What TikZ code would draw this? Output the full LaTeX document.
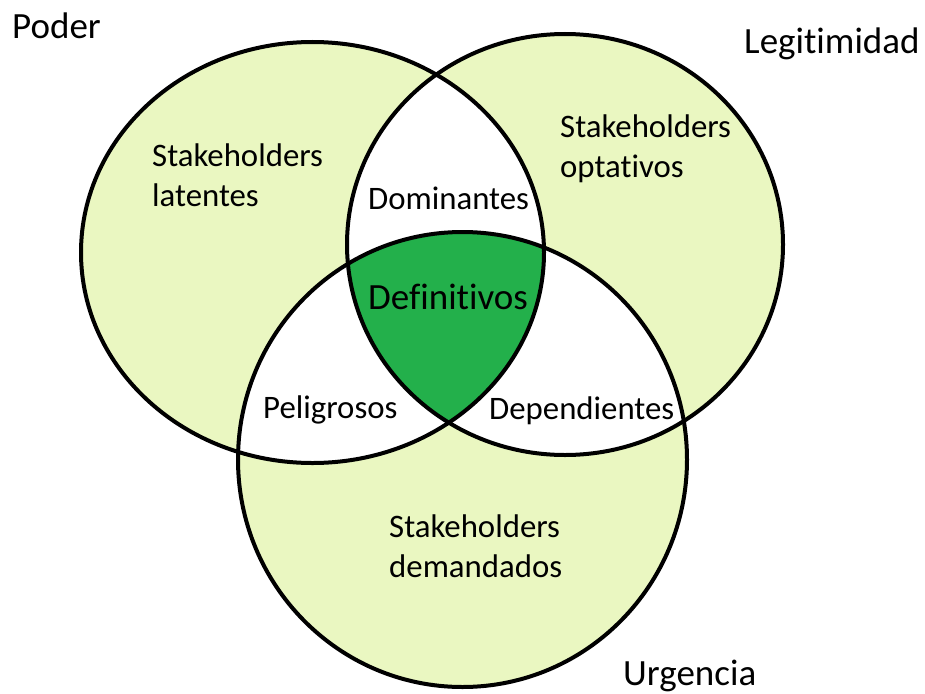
\documentclass[tikz,border=0pt]{standalone}
\usepackage{fontspec}
\setmainfont{Carlito}[Ligatures={NoCommon,NoContextual}]
\usepackage{xcolor}
\usepackage{tikz}
\usetikzlibrary{positioning}

\definecolor{paleGreen}{RGB}{234,247,193}
\definecolor{coreGreen}{RGB}{35,176,75}

\newcommand{\poderpath}{(312.5,252.5) ellipse [x radius=231.5pt, y radius=210.5pt]}
\newcommand{\legitpath}{(565,244.5) ellipse [x radius=218pt, y radius=210.5pt]}
\newcommand{\urgpath}{(462.5,459.5) ellipse [x radius=224.5pt, y radius=227.5pt]}

\begin{document}
\begin{tikzpicture}[
    x=1pt, y=-1pt,
    rim/.style={draw=black, line width=4pt},
    region/.style={anchor=base west, inner sep=0pt, align=left, font=\fontsize{32.8}{40}\selectfont},
    setname/.style={anchor=base west, inner sep=0pt, font=\fontsize{37}{44}\selectfont}
]
\useasboundingbox (0,0) rectangle (925,693);

% pale sets
\fill[paleGreen] \poderpath;
\fill[paleGreen] \legitpath;
\fill[paleGreen] \urgpath;

% pairwise overlaps
\begin{scope}
\clip \poderpath;
\fill[white] \legitpath;
\fill[white] \urgpath;
\end{scope}
\begin{scope}
\clip \legitpath;
\fill[white] \urgpath;
\end{scope}

% all three
\begin{scope}
\clip \poderpath;
\clip \legitpath;
\fill[coreGreen] \urgpath;
\end{scope}

\draw[rim] \poderpath;
\draw[rim] \legitpath;
\draw[rim] \urgpath;

\node[setname] (poder) at (12,39) {Poder};
\node[setname] (legit) at (744,53) {Legitimidad};
\node[setname] (urg) at (623,685) {Urgencia};

% two-line labels sit on their last baseline
\node[region] (latentes) at (152,206) {Stakeholders\\latentes};
\node[region] (optativos) at (560,177) {Stakeholders\\optativos};
\node[region] (dominantes) at (368,209) {Dominantes};
\node[setname] (definitivos) at (368,309) {Definitivos};
\node[region] (peligrosos) at (263,418) {Peligrosos};
\node[region] (dependientes) at (489,419) {Dependientes};
\node[region] (demandados) at (389,577) {Stakeholders\\demandados};

\end{tikzpicture}
\end{document}
